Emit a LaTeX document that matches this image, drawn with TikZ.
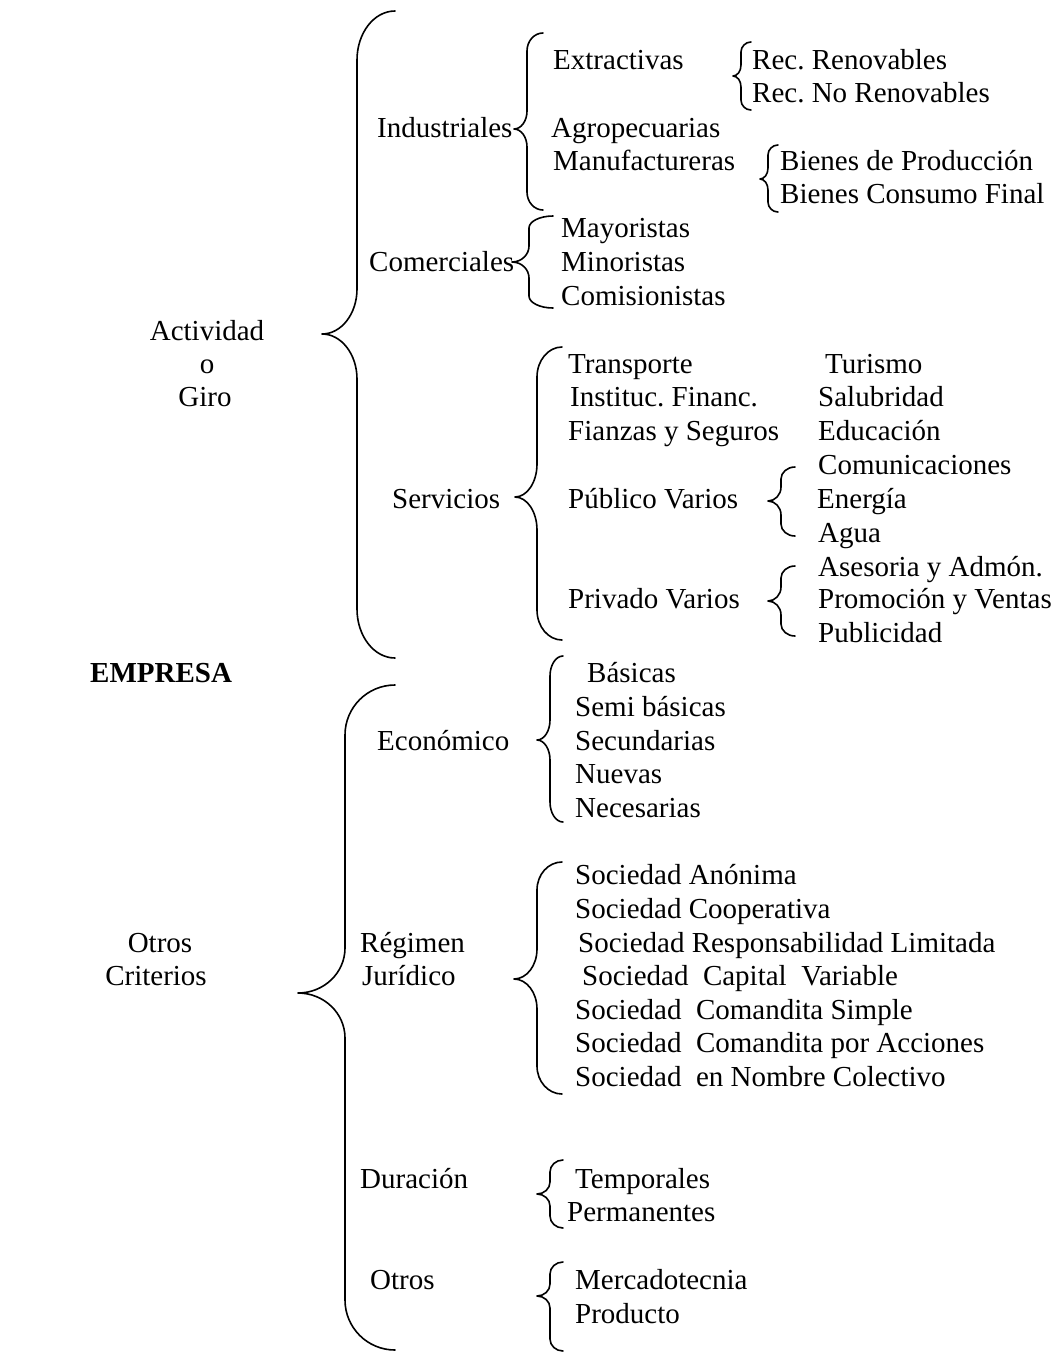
\documentclass[tikz,border=0pt]{standalone}
\usepackage{fontspec}
\setmainfont{Liberation Serif}
\frenchspacing
\begin{document}
% Curly brace opening to the right.
% #1 end x, #2 spine x, #3 tip x, #4 top y, #5 tip y, #6 bottom y, #7 end radius, #8 tip radius
\newcommand\curlybrace[8]{%
  \draw[bracepath] (#1,-#4)
    .. controls ({#1-0.552*(#1-#2)},-#4) and (#2,{-(#4+0.448*#7)}) .. (#2,{-(#4+#7)})
    -- (#2,{-(#5-#8)})
    .. controls (#2,{-(#5-0.448*#8)}) and ({#3+0.552*(#2-#3)},-#5) .. (#3,-#5)
    .. controls ({#3+0.552*(#2-#3)},-#5) and (#2,{-(#5+0.448*#8)}) .. (#2,{-(#5+#8)})
    -- (#2,{-(#6-#7)})
    .. controls (#2,{-(#6-0.448*#7)}) and ({#1-0.552*(#1-#2)},-#6) .. (#1,-#6);}
\begin{tikzpicture}[x=1pt,y=1pt,
  bracepath/.style={line width=1.6pt,line cap=round,line join=round},
  lbl/.style={anchor=base west,inner sep=0pt,font=\fontsize{29}{35}\selectfont},
  ctr/.style={anchor=base,inner sep=0pt,font=\fontsize{29}{35}\selectfont}]
\useasboundingbox (0,0) rectangle (1061,-1353);

% root
\node[lbl,font=\fontsize{29}{35}\selectfont\bfseries] (empresa) at (90,-682) {EMPRESA};

% ---- Actividad o Giro ----
\node[ctr] (act1) at (207,-340) {Actividad};
\node[ctr] (act2) at (207,-373) {o};
\node[ctr] (act3) at (205,-406) {Giro};
\curlybrace{395}{357}{322}{11}{334}{658}{49}{45}

\node[lbl] (ind) at (377,-137) {Industriales};
\curlybrace{543}{527}{514}{33}{129}{210}{18}{18}
\node[lbl] (extr) at (553,-69) {Extractivas};
\node[lbl] (agro) at (551,-137) {Agropecuarias};
\node[lbl] (manu) at (553,-170) {Manufactureras};
\curlybrace{751}{741}{733}{42}{76}{110}{10}{11}
\node[lbl] (renov) at (752,-69) {Rec. Renovables};
\node[lbl] (norenov) at (752,-102) {Rec. No Renovables};
\curlybrace{778}{768}{760}{145}{179}{212}{10}{11}
\node[lbl] (bprod) at (780,-170) {Bienes de Producción};
\node[lbl] (bcons) at (780,-203) {Bienes Consumo Final};

\node[lbl] (com) at (369,-271) {Comerciales};
\curlybrace{553}{529}{512}{216}{262}{308}{12}{16}
\node[lbl] (mayor) at (561,-237) {Mayoristas};
\node[lbl] (minor) at (561,-271) {Minoristas};
\node[lbl] (comis) at (561,-305) {Comisionistas};

\node[lbl] (serv) at (392,-508) {Servicios};
\curlybrace{562}{537}{515}{347}{497}{640}{30}{33}
\node[lbl] (transp) at (568,-373) {Transporte};
\node[lbl] (instit) at (570,-406) {Instituc. Financ.};
\node[lbl] (fianz) at (568,-440) {Fianzas y Seguros};
\node[lbl] (publ) at (568,-508) {Público Varios};
\node[lbl] (priv) at (568,-608) {Privado Varios};
\node[lbl] (turis) at (825,-373) {Turismo};
\node[lbl] (salub) at (818,-406) {Salubridad};
\node[lbl] (educ) at (818,-440) {Educación};
\curlybrace{795}{781}{768}{467}{501}{536}{12}{14}
\node[lbl] (comu) at (818,-474) {Comunicaciones};
\node[lbl] (energ) at (817,-508) {Energía};
\node[lbl] (agua) at (818,-542) {Agua};
\curlybrace{795}{781}{768}{566}{601}{636}{12}{14}
\node[lbl] (aseso) at (818,-576) {Asesoria y Admón.};
\node[lbl] (promo) at (818,-608) {Promoción y Ventas};
\node[lbl] (publi) at (818,-642) {Publicidad};

% ---- Otros Criterios ----
\node[ctr] (otr1) at (160,-952) {Otros};
\node[ctr] (otr2) at (156,-985) {Criterios};
\curlybrace{395}{345}{298}{685}{993}{1350}{50}{45}

\node[lbl] (econ) at (377,-750) {Económico};
\curlybrace{563}{550}{537}{656}{740}{822}{20}{20}
\node[lbl] (basic) at (587,-682) {Básicas};
\node[lbl] (semib) at (575,-716) {Semi básicas};
\node[lbl] (secun) at (575,-750) {Secundarias};
\node[lbl] (nuev) at (575,-783) {Nuevas};
\node[lbl] (neces) at (575,-817) {Necesarias};

\node[lbl] (regim) at (360,-952) {Régimen};
\node[lbl] (jurid) at (362,-985) {Jurídico};
\curlybrace{562}{537}{514}{862}{979}{1094}{28}{30}
\node[lbl] (sa) at (575,-884) {Sociedad Anónima};
\node[lbl] (scoop) at (575,-918) {Sociedad Cooperativa};
\node[lbl] (srl) at (578,-952) {Sociedad Responsabilidad Limitada};
\node[lbl] (scv) at (582,-985) {Sociedad\ \ Capital\ \ Variable};
\node[lbl] (scs) at (575,-1019) {Sociedad\ \ Comandita Simple};
\node[lbl] (sca) at (575,-1052) {Sociedad\ \ Comandita por Acciones};
\node[lbl] (snc) at (575,-1086) {Sociedad\ \ en Nombre Colectivo};

\node[lbl] (durac) at (360,-1188) {Duración};
\curlybrace{563}{550}{537}{1160}{1194}{1228}{12}{12}
\node[lbl] (tempo) at (575,-1188) {Temporales};
\node[lbl] (perma) at (567,-1221) {Permanentes};

\node[lbl] (otros) at (370,-1289) {Otros};
\curlybrace{563}{550}{537}{1262}{1296}{1351}{12}{12}
\node[lbl] (merca) at (575,-1289) {Mercadotecnia};
\node[lbl] (produ) at (575,-1323) {Producto};
\end{tikzpicture}
\end{document}
